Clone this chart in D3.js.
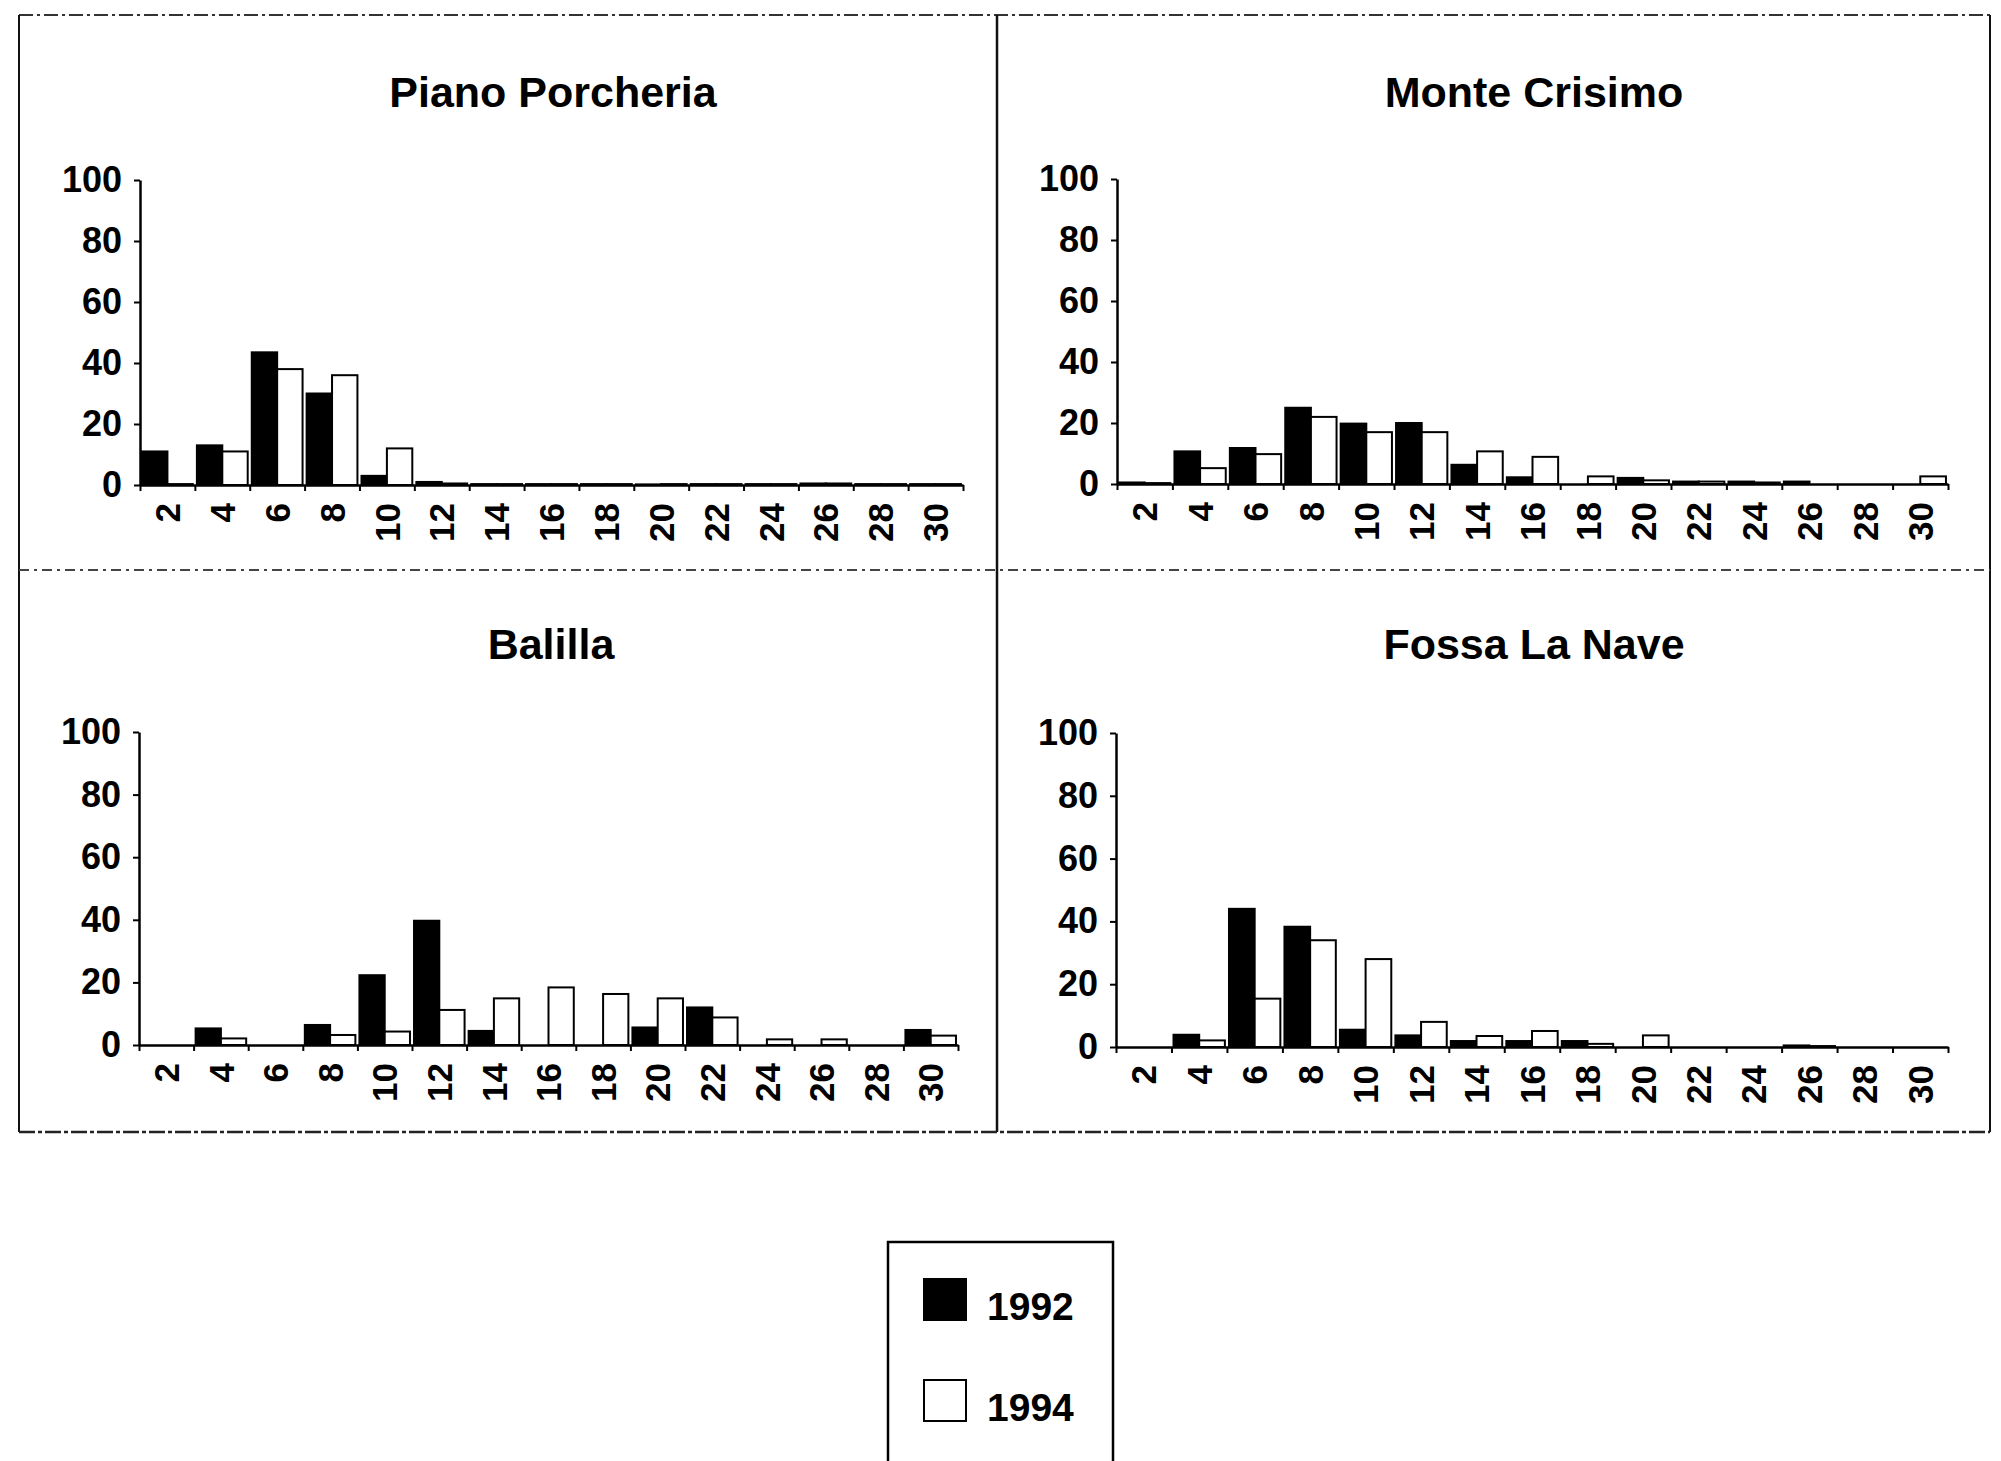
<!DOCTYPE html>
<html>
<head>
<meta charset="utf-8">
<script src="https://cdn.jsdelivr.net/npm/d3@7"></script>
<style>
  html, body { margin: 0; padding: 0; background: #fff; }
  svg { display: block; }
</style>
</head>
<body>
<script>
// ---------- data ----------
const categories = ["2","4","6","8","10","12","14","16","18","20","22","24","26","28","30"];
const series = ["1992", "1994"];
const yTicks = [0, 20, 40, 60, 80, 100];
const titles = ["Piano Porcheria", "Monte Crisimo", "Balilla", "Fossa La Nave"];

const piano1992   = [11, 13, 43.5, 30, 3, 1, 0.3, 0.3, 0.3, 0.2, 0.3, 0.3, 0.5, 0.3, 0.3];
const piano1994   = [0.3, 11, 38, 36, 12, 0.5, 0.3, 0.3, 0.3, 0.3, 0.3, 0.3, 0.5, 0.3, 0.3];
const monte1992   = [0.5, 10.7, 11.8, 25, 19.8, 20, 6.3, 2.2, 0, 2, 0.8, 0.8, 0.8, 0, 0];
const monte1994   = [0.3, 5.2, 9.8, 22, 17, 17, 10.7, 8.9, 2.5, 1.2, 0.8, 0.5, 0, 0, 2.5];
const balilla1992 = [0, 5.3, 0, 6.4, 22.3, 39.7, 4.5, 0, 0, 5.6, 12, 0, 0, 0, 4.8];
const balilla1994 = [0, 2.1, 0, 3.2, 4.3, 11.2, 14.9, 18.4, 16.3, 14.9, 8.8, 1.8, 1.8, 0, 3];
const fossa1992   = [0, 3.9, 44, 38.3, 5.5, 3.7, 1.9, 1.9, 1.9, 0, 0, 0, 0.5, 0, 0];
const fossa1994   = [0, 2.1, 15.4, 34, 28, 8, 3.5, 5.1, 1, 3.7, 0, 0, 0.3, 0, 0];

const panelData = [
  [piano1992, piano1994],
  [monte1992, monte1994],
  [balilla1992, balilla1994],
  [fossa1992, fossa1994]
];

// ---------- layout ----------
const W = 2001, H = 1461;
const FONT = "'Liberation Sans', Arial, Helvetica, sans-serif";
const layout = [
  {x0: 140,  x1: 963,  yb: 485,  yt: 180, tx: 553,  ty: 107},
  {x0: 1117, x1: 1948, yb: 484,  yt: 179, tx: 1534, ty: 107},
  {x0: 139,  x1: 958,  yb: 1045, yt: 732, tx: 551,  ty: 659},
  {x0: 1116, x1: 1948, yb: 1047, yt: 733, tx: 1534, ty: 659}
];
const fills = {"1992": "#000", "1994": "#fff"};

const svg = d3.select("body").append("svg")
  .attr("width", W).attr("height", H)
  .attr("font-family", FONT);

svg.append("rect").attr("width", W).attr("height", H).attr("fill", "#fff");

// ---------- frame ----------
const frame = svg.append("g").attr("stroke", "#111").attr("fill", "none");
frame.append("line").attr("x1", 19).attr("x2", 1990).attr("y1", 15).attr("y2", 15)
  .attr("stroke-width", 2).attr("stroke-dasharray", "14 4 3 4").attr("stroke", "#333");
frame.append("line").attr("x1", 19).attr("x2", 19).attr("y1", 15).attr("y2", 1132).attr("stroke-width", 2);
frame.append("line").attr("x1", 1990).attr("x2", 1990).attr("y1", 15).attr("y2", 1132).attr("stroke-width", 2);
frame.append("line").attr("x1", 997).attr("x2", 997).attr("y1", 15).attr("y2", 1132).attr("stroke-width", 2.5);
frame.append("line").attr("x1", 19).attr("x2", 1990).attr("y1", 570).attr("y2", 570)
  .attr("stroke-width", 2).attr("stroke-dasharray", "10 5 3 5").attr("stroke", "#444");
frame.append("line").attr("x1", 19).attr("x2", 1990).attr("y1", 1132).attr("y2", 1132)
  .attr("stroke-width", 2.5).attr("stroke-dasharray", "16 3 4 3").attr("stroke", "#222");

// ---------- panels ----------
panelData.forEach((vals, i) => {
  const L = layout[i];
  const g = svg.append("g");

  const x = d3.scaleBand().domain(categories).range([L.x0, L.x1]).padding(0);
  const xs = d3.scaleBand().domain(series).range([0, x.bandwidth()])
    .paddingInner(0).paddingOuter(0.08);
  const y = d3.scaleLinear().domain([0, 100]).range([L.yb, L.yt]);
  const xl = d3.scaleLinear().domain([0, categories.length]).range([L.x0, L.x1]);

  // title
  g.append("text")
    .attr("x", L.tx).attr("y", L.ty)
    .attr("text-anchor", "middle")
    .attr("font-size", 43).attr("font-weight", "bold")
    .attr("fill", "#000")
    .text(titles[i]);

  // bars
  series.forEach((s, si) => {
    g.append("g").selectAll("rect")
      .data(categories.map((c, ci) => ({c, v: vals[si][ci]})))
      .join("rect")
      .attr("x", d => x(d.c) + xs(s))
      .attr("width", xs.bandwidth())
      .attr("y", d => y(d.v))
      .attr("height", d => L.yb - y(d.v))
      .attr("fill", fills[s])
      .attr("stroke", "#000")
      .attr("stroke-width", 2);
  });

  // y axis
  const ya = g.append("g")
    .attr("transform", `translate(${L.x0},0)`)
    .call(d3.axisLeft(y).tickValues(yTicks).tickSize(6).tickSizeOuter(0).tickPadding(12));
  ya.select(".domain").attr("stroke", "#000").attr("stroke-width", 2.5);
  ya.selectAll(".tick line").attr("stroke", "#000").attr("stroke-width", 2);
  ya.selectAll("text")
    .attr("font-size", 36).attr("font-weight", "bold")
    .attr("font-family", FONT).attr("fill", "#000");

  // x axis: boundary ticks + line
  const xa = g.append("g")
    .attr("transform", `translate(0,${L.yb})`)
    .call(d3.axisBottom(xl).tickValues(d3.range(categories.length + 1))
      .tickSize(6).tickSizeOuter(0).tickFormat(""));
  xa.select(".domain").attr("stroke", "#000").attr("stroke-width", 2.5);
  xa.selectAll(".tick line").attr("stroke", "#000").attr("stroke-width", 2);

  // x axis: rotated category labels
  const xlab = g.append("g")
    .attr("transform", `translate(0,${L.yb})`)
    .call(d3.axisBottom(x).tickSize(0).tickPadding(0));
  xlab.select(".domain").remove();
  xlab.selectAll("text")
    .attr("y", 0).attr("dy", "0.36em")
    .attr("transform", "translate(0,18) rotate(-90)")
    .attr("text-anchor", "end")
    .attr("font-size", 35).attr("font-weight", "bold")
    .attr("font-family", FONT).attr("fill", "#000");
});

// ---------- legend ----------
const lg = svg.append("g");
lg.append("rect")
  .attr("x", 888).attr("y", 1242).attr("width", 225).attr("height", 240)
  .attr("fill", "#fff").attr("stroke", "#000").attr("stroke-width", 2.5);
const ly = d3.scalePoint().domain(series).range([1299, 1400]);
series.forEach(s => {
  lg.append("rect")
    .attr("x", 924).attr("y", ly(s) - 20).attr("width", 42).attr("height", 41)
    .attr("fill", fills[s]).attr("stroke", "#000").attr("stroke-width", 2);
  lg.append("text")
    .attr("x", 987).attr("y", ly(s) + 21)
    .attr("font-size", 39).attr("font-weight", "bold").attr("fill", "#000")
    .text(s);
});
</script>
</body>
</html>
